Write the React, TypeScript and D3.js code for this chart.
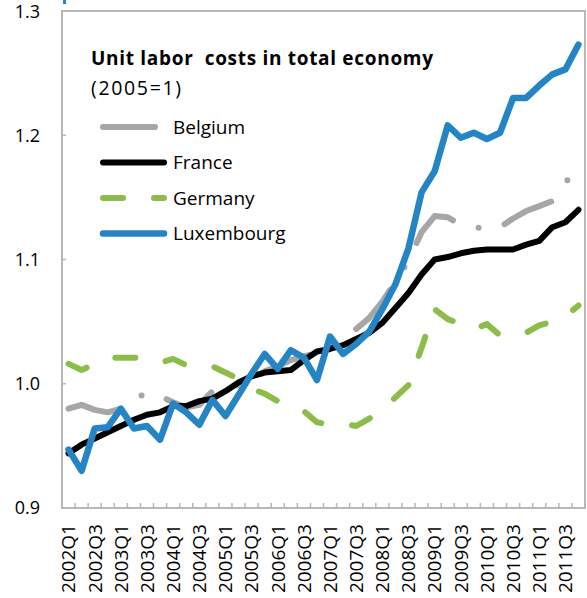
import React from "react";
import { scaleBand, scaleLinear, line } from "d3";

const width = 587;
const height = 598;
const margin = { top: 11, right: 2, bottom: 90, left: 62 };

// categories: quarters 2002Q1 .. 2011Q4
const years = [2002, 2003, 2004, 2005, 2006, 2007, 2008, 2009, 2010, 2011];
const quarters = years.flatMap((y) => [1, 2, 3, 4].map((q) => `${y}Q${q}`));

const yTicks = [0.9, 1.0, 1.1, 1.2, 1.3];

// values (2005=1)
const belgium = [
  0.98, 0.983, 0.979, 0.977, 0.98, 0.987, 0.993, 0.99, 0.985, 0.981,
  0.983, 0.994, 0.995, 0.999, 1.003, 1.01, 1.014, 1.019, 1.022, 1.025,
  1.03, 1.036, 1.044, 1.053, 1.066, 1.082, 1.099, 1.122, 1.135, 1.134,
  1.128, 1.126, 1.125, 1.126, 1.133, 1.139, 1.143, 1.147, 1.162, 1.174,
];
const france = [
  0.944, 0.951, 0.956, 0.961, 0.966, 0.971, 0.975, 0.977, 0.982, 0.982,
  0.986, 0.988, 0.994, 1.001, 1.006, 1.009, 1.01, 1.011, 1.019, 1.026,
  1.028, 1.031, 1.036, 1.041, 1.049, 1.061, 1.073, 1.088, 1.1, 1.102,
  1.105, 1.107, 1.108, 1.108, 1.108, 1.112, 1.115, 1.126, 1.13, 1.14,
];
const germany = [
  1.016, 1.011, 1.016, 1.021, 1.021, 1.021, 1.02, 1.017, 1.02, 1.015,
  1.013, 1.014, 1.009, 1.004, 0.996, 0.992, 0.986, 0.981, 0.978, 0.969,
  0.967, 0.968, 0.966, 0.972, 0.979, 0.989, 0.999, 1.029, 1.06, 1.052,
  1.048, 1.044, 1.048, 1.039, 1.039, 1.041, 1.047, 1.05, 1.054, 1.063,
];
const luxembourg = [
  0.947, 0.93, 0.964, 0.965, 0.98, 0.964, 0.966, 0.955, 0.984, 0.977,
  0.967, 0.987, 0.974, 0.991, 1.008, 1.024, 1.012, 1.027, 1.021, 1.003,
  1.038, 1.024, 1.032, 1.042, 1.06, 1.08, 1.109, 1.154, 1.171, 1.208,
  1.198, 1.202, 1.197, 1.202, 1.23, 1.23, 1.24, 1.249, 1.253, 1.273,
];

const seriesNames = ["Belgium", "France", "Germany", "Luxembourg"];
const seriesValues = [belgium, france, germany, luxembourg];
const seriesStyle = [
  { color: "#a6a6a6", width: 6, dash: "52 27 0 27" },
  { color: "#000000", width: 6, dash: "" },
  { color: "#8cbd4b", width: 6, dash: "20 31" },
  { color: "#2484c4", width: 6.5, dash: "" },
];

const font = "'Segoe UI', 'Open Sans', sans-serif";

export default function App() {
  const innerW = width - margin.left - margin.right;
  const innerH = height - margin.top - margin.bottom;

  const x = scaleBand<string>().domain(quarters).range([0, innerW]).padding(0);
  const y = scaleLinear().domain([0.9, 1.3]).range([innerH, 0]);
  const cx = (i: number) => (x(quarters[i]) as number) + x.bandwidth() / 2;

  const path = line<number>()
    .x((_, i) => cx(i))
    .y((d) => y(d));

  const legendX0 = 41;
  const legendX1 = 102;
  const legendY0 = 116;
  const legendStep = 35.5;

  return (
    <svg
      width={width}
      height={height}
      style={{ position: "absolute", left: 0, top: 0, background: "#fff" }}
      fontFamily={font}
    >
      <rect x={63} y={0} width={3} height={4} fill="#2484c4" />
      <g transform={`translate(${margin.left},${margin.top})`}>
        {/* plot frame */}
        <rect
          x={0}
          y={0}
          width={innerW}
          height={innerH}
          fill="none"
          stroke="#b7b7b7"
          strokeWidth={2}
        />
        {/* y ticks + labels */}
        {yTicks.map((t) => (
          <g key={t} transform={`translate(0,${y(t)})`}>
            <line x1={0} x2={4} stroke="#b7b7b7" strokeWidth={1.5} />
            <text
              x={-22}
              y={t === 1.3 ? 1 : 0}
              dy="0.36em"
              textAnchor="end"
              fontSize={18}
              fill="#000"
            >
              {t.toFixed(1)}
            </text>
          </g>
        ))}
        {/* x ticks at category boundaries */}
        {quarters.slice(1).map((q) => (
          <line
            key={q}
            x1={x(q)}
            x2={x(q)}
            y1={innerH}
            y2={innerH - 5}
            stroke="#b7b7b7"
            strokeWidth={1.5}
          />
        ))}
        {/* x labels, every other quarter */}
        {quarters.map((q, i) =>
          i % 2 === 0 ? (
            <text
              key={q}
              transform={`translate(${cx(i)},${innerH + 16}) rotate(-90)`}
              textAnchor="end"
              dy="0.36em"
              fontSize={19}
              fill="#000"
            >
              {q}
            </text>
          ) : null
        )}
        {/* series */}
        {seriesValues.map((vals, k) => (
          <path
            key={seriesNames[k]}
            d={path(vals) ?? ""}
            fill="none"
            stroke={seriesStyle[k].color}
            strokeWidth={seriesStyle[k].width}
            strokeDasharray={seriesStyle[k].dash || undefined}
            strokeLinecap="round"
            strokeLinejoin="round"
          />
        ))}
        {/* title */}
        <text
          x={29}
          y={54}
          fontSize={19}
          fontWeight="bold"
          fill="#000"
          textLength={342}
          lengthAdjust="spacing"
          style={{ whiteSpace: "pre" }}
        >
          {"Unit labor  costs in total economy"}
        </text>
        <text
          x={29}
          y={84}
          fontSize={19.5}
          fill="#000"
          textLength={90}
          lengthAdjust="spacing"
        >
          (2005=1)
        </text>
        {/* legend */}
        {seriesNames.map((name, k) => (
          <g key={name} transform={`translate(0,${legendY0 + k * legendStep})`}>
            <line
              x1={legendX0}
              x2={legendX1}
              stroke={seriesStyle[k].color}
              strokeWidth={seriesStyle[k].width}
              strokeDasharray={seriesStyle[k].dash || undefined}
              strokeLinecap="round"
            />
            <text x={legendX1 + 9} dy="0.36em" fontSize={19} fill="#000">
              {name}
            </text>
          </g>
        ))}
      </g>
    </svg>
  );
}
